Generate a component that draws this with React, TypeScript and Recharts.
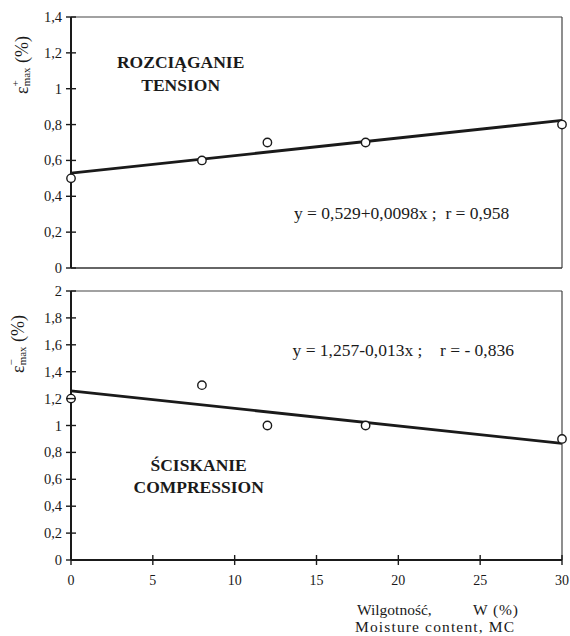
import React from "react";
import { ReferenceDot, ReferenceLine, Scatter, ScatterChart, XAxis, YAxis } from "recharts";

// moisture content W (%) and max strain
const moisture = [0, 8, 12, 18, 30];
const tensionStrain = [0.5, 0.6, 0.7, 0.7, 0.8];
const compressionStrain = [1.2, 1.3, 1.0, 1.0, 0.9];

// regression lines, end points read at W = 0 and W = 30
const fitX = [0, 30];
const tensionFit = [0.529, 0.823];
const compressionFit = [1.257, 0.867];

const xTicks = [0, 5, 10, 15, 20, 25, 30];
const tensionTicks = [0, 0.2, 0.4, 0.6, 0.8, 1, 1.2, 1.4];
const compressionTicks = [0, 0.2, 0.4, 0.6, 0.8, 1, 1.2, 1.4, 1.6, 1.8, 2];

const INK = "#1a1a1a";
const FONT = "Liberation Serif, Times New Roman, serif";

const toPoints = (xs: number[], ys: number[]) => xs.map((x, i) => ({ x, y: ys[i] }));
const fmt = (v: number) => String(v).replace(".", ",");

function YTick({ x, y, payload }: any) {
  return (
    <g>
      <line x1={x - 5} x2={x + 5} y1={y} y2={y} stroke={INK} strokeWidth={1.4} />
      <text x={x - 9} y={y} textAnchor="end" dominantBaseline="central" fontSize={14.5} fill={INK} fontFamily={FONT}>
        {fmt(payload.value)}
      </text>
    </g>
  );
}

function XTick({ x, y, payload }: any) {
  return (
    <g>
      <line x1={x} x2={x} y1={y - 5} y2={y + 5} stroke={INK} strokeWidth={1.4} />
      <text x={x} y={y + 20} textAnchor="middle" dominantBaseline="central" fontSize={14} fill={INK} fontFamily={FONT}>
        {payload.value}
      </text>
    </g>
  );
}

// rotated y title, placed in page coordinates of its own chart
function EpsLabel({ sign, cx, cy }: any) {
  return (
    <text
      x={cx}
      y={cy}
      transform={`rotate(-90 ${cx} ${cy})`}
      textAnchor="middle"
      dominantBaseline="central"
      fontSize={18}
      fill={INK}
      fontFamily={FONT}
    >
      ε
      <tspan fontSize={11} dy={-7}>{sign}</tspan>
      <tspan fontSize={11} dy={11} dx={-6}>max</tspan>
      <tspan dy={-4}> (%)</tspan>
    </text>
  );
}

function MoistureLabel() {
  return (
    <g fontFamily={FONT} fontSize={15.5} fill={INK}>
      <text x={357} y={329} dominantBaseline="central">Wilgotność,</text>
      <text x={473} y={329} dominantBaseline="central" textLength={45} lengthAdjust="spacing">W (%)</text>
      <text x={355} y={346} dominantBaseline="central" textLength={159} lengthAdjust="spacing">Moisture content, MC</text>
    </g>
  );
}

const Dot = (p: any) => <circle cx={p.cx} cy={p.cy} r={4.2} fill="#fff" stroke={INK} strokeWidth={1.4} />;
const NoDot = () => <g />;

function noteLabel(text: string, bold: boolean) {
  return (props: any) => {
    const vb = props.viewBox || {};
    const cx = (vb.x ?? 0) + (vb.width ?? 0) / 2;
    const cy = (vb.y ?? 0) + (vb.height ?? 0) / 2;
    return (
      <text
        x={cx}
        y={cy}
        textAnchor="middle"
        dominantBaseline="central"
        fontSize={17.5}
        fontWeight={bold ? 700 : 400}
        fill={INK}
        fontFamily={FONT}
        style={{ whiteSpace: "pre" }}
      >
        {text}
      </text>
    );
  };
}

function note(x: number, y: number, text: string, bold = false) {
  return (
    <ReferenceDot key={text} x={x} y={y} r={0} fill="none" stroke="none" label={{ content: noteLabel(text, bold) }} />
  );
}

export default function App() {
  const tension = toPoints(moisture, tensionStrain);
  const compression = toPoints(moisture, compressionStrain);
  const tensionLine = toPoints(fitX, tensionFit);
  const compressionLine = toPoints(fitX, compressionFit);

  return (
    <div style={{ position: "absolute", left: 0, top: 0, width: 570, height: 636, background: "#fff", fontFamily: FONT }}>
      <ScatterChart width={570} height={280} margin={{ top: 17, right: 8, left: 0, bottom: 0 }}>
        <XAxis type="number" dataKey="x" domain={[0, 30]} ticks={xTicks} tick={false} tickLine={false} height={12}
          axisLine={{ stroke: "#333", strokeWidth: 1.5 }} />
        <YAxis type="number" dataKey="y" domain={[0, 1.4]} ticks={tensionTicks} width={71} tickSize={0} tickMargin={0}
          tickLine={false} tick={<YTick />} axisLine={{ stroke: INK, strokeWidth: 2 }}
          label={{ content: () => <EpsLabel sign="+" cx={22} cy={65} /> }} />
        <ReferenceLine y={1.4} stroke="#444" strokeWidth={1.2} />
        <ReferenceLine x={30} stroke="#444" strokeWidth={1.2} />
        <Scatter data={tensionLine} line={{ stroke: INK, strokeWidth: 2.8 }} shape={NoDot} isAnimationActive={false} />
        <Scatter data={tension} shape={Dot} isAnimationActive={false} />
        {note(6.7, 1.15, "ROZCIĄGANIE", true)}
        {note(6.7, 1.02, "TENSION", true)}
        {note(20.2, 0.307, "y = 0,529+0,0098x ;  r = 0,958")}
      </ScatterChart>
      <ScatterChart width={570} height={356} margin={{ top: 11, right: 8, left: 0, bottom: 0 }}>
        <XAxis type="number" dataKey="x" domain={[0, 30]} ticks={xTicks} height={76} tickSize={0} tickMargin={0}
          tickLine={false} tick={<XTick />} axisLine={{ stroke: INK, strokeWidth: 2 }}
          label={{ content: () => <MoistureLabel /> }} />
        <YAxis type="number" dataKey="y" domain={[0, 2]} ticks={compressionTicks} width={71} tickSize={0} tickMargin={0}
          tickLine={false} tick={<YTick />} axisLine={{ stroke: INK, strokeWidth: 2 }}
          label={{ content: () => <EpsLabel sign="−" cx={18} cy={64} /> }} />
        <ReferenceLine y={2} stroke="#444" strokeWidth={1.2} />
        <ReferenceLine x={30} stroke="#444" strokeWidth={1.2} />
        <Scatter data={compressionLine} line={{ stroke: INK, strokeWidth: 2.8 }} shape={NoDot} isAnimationActive={false} />
        <Scatter data={compression} shape={Dot} isAnimationActive={false} />
        {note(20.3, 1.56, "y = 1,257-0,013x ;    r = - 0,836")}
        {note(7.8, 0.706, "ŚCISKANIE", true)}
        {note(7.8, 0.543, "COMPRESSION", true)}
      </ScatterChart>
    </div>
  );
}
